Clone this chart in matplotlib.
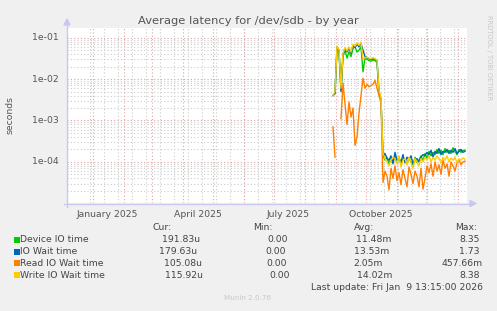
import numpy as np
import matplotlib
matplotlib.use("Agg")
import matplotlib.pyplot as plt
import matplotlib.dates as mdates
from matplotlib.patches import Rectangle
from datetime import datetime, timedelta

# ---------------- data (microseconds), one point every 2 days from 2025-08-29 ----------------
start_day = datetime(2025, 8, 29, 12)
step_days = 2
nan = np.nan
device_us = [4000, 4500, 55000, 45000, 5500, 35000, 50000, 32000, 45000, 35000,
             55000, 60000, 45000, 50000, 60000, 15000, 32000, 30000, 28000, 27000,
             29000, 28000, 25000, 4500, 3000,
             150, 110, 130, 90, 120, 100, 140, 95, 130, 85,
             120, 110, 90, 125, 100, 80, 130, 95, 110, 140,
             105, 160, 120, 180, 140, 170, 150, 200, 160, 190,
             150, 210, 170, 190, 160, 220, 180, 150, 200, 170,
             190, 192]
iowait_us = [4000, 4500, 60000, 50000, 5000, 40000, 55000, 45000, 55000, 42000,
             65000, 58000, 70000, 60000, 72000, 50000, 35000, 33000, 31000, 30000,
             31000, 30000, 28000, 5000, 3200,
             130, 160, 120, 110, 140, 90, 170, 110, 120, 100,
             150, 95, 130, 115, 140, 90, 110, 120, 100, 130,
             150, 140, 170, 150, 190, 130, 180, 160, 210, 150,
             180, 170, 200, 160, 190, 170, 210, 160, 180, 200,
             170, 180]
read_us = [700, 130, nan, nan, 1100, 8000, 2500, 800, 2800, 1200,
           2000, 250, 400, 1500, 4000, 10500, 6000, 7500, 6500, 7000,
           7500, 9300, 6000, 4000, 2600,
           32, 60, 45, 21, 70, 40, 80, 35, 55, 28,
           65, 40, 25, 75, 50, 30, 60, 45, 25, 70,
           22, 40, 80, 55, 90, 45, 100, 60, 85, 50,
           110, 70, 90, 45, 100, 80, 60, 95, 110, 85,
           100, 105]
write_us = [4000, 5000, 62000, 52000, 6000, 42000, 58000, 48000, 60000, 45000,
            70000, 62000, 75000, 65000, 78000, 30000, 33000, 34000, 32000, 31000,
            33000, 31000, 29000, 5500, 3500,
            160, 120, 100, 80, 110, 130, 120, 90, 140, 75,
            110, 120, 85, 130, 95, 70, 120, 100, 80, 120,
            100, 130, 110, 140, 100, 130, 110, 140, 120, 95,
            130, 110, 140, 100, 125, 110, 130, 95, 120, 110,
            125, 116]

series_names = ["Device IO time", "IO Wait time", "Read IO Wait time", "Write IO Wait time"]
series_colors = ["#00CC00", "#0066B3", "#FF8000", "#FFCC00"]
cur_text = ["191.83u", "179.63u", "105.08u", "115.92u"]
min_text = ["0.00", "0.00", "0.00", "0.00"]
avg_text = ["11.48m", "13.53m", "2.05m", "14.02m"]
max_text = ["8.35", "1.73", "457.66m", "8.38"]

month_labels = ["January 2025", "April 2025", "July 2025", "October 2025"]
month_label_dates = [datetime(2025, 1, 16), datetime(2025, 4, 16),
                     datetime(2025, 7, 16), datetime(2025, 10, 16)]
y_ticks = [1e-4, 1e-3, 1e-2, 1e-1]
y_tick_labels = ["1e-04", "1e-03", "1e-02", "1e-01"]

# ---------------- figure ----------------
W, H = 497, 311
fig = plt.figure(figsize=(W / 100, H / 100), dpi=100, facecolor="#F0F0F0")
FONT = "DejaVu Sans"
TXT = "#555555"

def fx(px):
    return px / W

def fy(py):
    return 1 - py / H

ax_l, ax_r, ax_t, ax_b = 67, 467, 27.7, 203.3
ax = fig.add_axes([fx(ax_l), fy(ax_b), (ax_r - ax_l) / W, (ax_b - ax_t) / H])
ax.set_facecolor("white")
for s in ax.spines.values():
    s.set_visible(False)

x0 = datetime(2024, 12, 6, 12)
x1 = x0 + timedelta(days=400)
ax.set_xlim(x0, x1)
ax.set_yscale("log")
ax.set_ylim(1e-5, 0.174)

# grid: minor first
minor_v = []
d = datetime(2024, 12, 29)
while d < x1:
    minor_v.append(d)
    d += timedelta(days=14)
for d in minor_v:
    ax.axvline(d, color="#CCCCCC", lw=0.8, ls=(0, (1, 2)), zorder=0)
for dec in range(-5, 0):
    for m in range(2, 10):
        v = m * 10.0 ** dec
        if v < 0.174:
            ax.axhline(v, color="#CCCCCC", lw=0.8, ls=(0, (1, 2)), zorder=0)
major_v = []
for yy, mm in [(2025, m) for m in range(1, 13)] + [(2026, 1)]:
    major_v.append(datetime(yy, mm, 1))
for d in major_v:
    ax.axvline(d, color="#E8A0A0", lw=0.8, ls=(0, (1, 2)), zorder=0.5)
for v in [1e-5, 1e-4, 1e-3, 1e-2, 1e-1]:
    ax.axhline(v, color="#E8A0A0", lw=0.8, ls=(0, (1, 2)), zorder=0.5)

# data
n = len(device_us)
dates = [start_day + timedelta(days=step_days * i) for i in range(n)]
for vals, c in zip([device_us, iowait_us, read_us, write_us], series_colors):
    ax.plot(dates, np.array(vals, dtype=float) * 1e-6, color=c, lw=1.0, zorder=3)

ax.set_xticks([])
ax.set_yticks([])
ax.minorticks_off()
ax.yaxis.set_minor_locator(matplotlib.ticker.NullLocator())

TFS = 6.7
# tick labels as text
for v, lab in zip(y_ticks, y_tick_labels):
    ax.text(-0.02, v, lab, transform=ax.get_yaxis_transform(), ha="right", va="center",
            fontsize=TFS, color=TXT, family=FONT)
for dte, lab in zip(month_label_dates, month_labels):
    ax.text(dte, -0.037, lab, transform=ax.get_xaxis_transform(), ha="center", va="top",
            fontsize=TFS, color=TXT, family=FONT)

# axis lines with arrows
ac = "#C8C8F0"
fig.add_artist(matplotlib.lines.Line2D([fx(64), fx(471)], [fy(203.5), fy(203.5)], color=ac, lw=1))
fig.add_artist(matplotlib.lines.Line2D([fx(67), fx(67)], [fy(207), fy(24)], color=ac, lw=1))
fig.add_artist(matplotlib.patches.Polygon([[fx(470), fy(200.5)], [fx(476), fy(203.5)], [fx(470), fy(206.5)]],
                                          closed=True, color=ac, transform=fig.transFigure))
fig.add_artist(matplotlib.patches.Polygon([[fx(64), fy(25)], [fx(67), fy(19)], [fx(70), fy(25)]],
                                          closed=True, color=ac, transform=fig.transFigure))

# title and labels
fig.text(fx(248.5), fy(24.5), "Average latency for /dev/sdb - by year", ha="center", va="baseline",
         fontsize=8.25, color=TXT, family=FONT)
fig.text(fx(10), fy(115), "seconds", rotation=90, ha="center", va="center",
         fontsize=TFS, color=TXT, family=FONT)
fig.text(fx(489), fy(15), "RRDTOOL / TOBI OETIKER", rotation=-90, ha="center", va="top",
         fontsize=4.8, color="#C8C8C8", family=FONT)

# legend
LT = "#444444"
fs = 6.65
hdr_y = 227
for lab, cx in zip(["Cur:", "Min:", "Avg:", "Max:"], [162, 263, 364, 466]):
    fig.text(fx(cx), fy(hdr_y), lab, ha="center", va="center", fontsize=fs, color=LT, family=FONT)
row_y = [239.5, 251.5, 263, 275]
cur_c = [181, 178, 183, 184]
min_c = [277.7, 275.7, 276.7, 279.7]
avg_c = [373.8, 372, 368, 374.5]
max_r = [479.5, 479.5, 483, 479.5]
for i in range(4):
    y = row_y[i]
    fig.add_artist(Rectangle((fx(14), fy(y + 3)), 6 / W, 6 / H, transform=fig.transFigure,
                             facecolor=series_colors[i], edgecolor="none"))
    fig.text(fx(20.5), fy(y), series_names[i], ha="left", va="center", fontsize=fs, color=LT, family=FONT)
    fig.text(fx(cur_c[i]), fy(y), cur_text[i], ha="center", va="center", fontsize=fs, color=LT, family=FONT)
    fig.text(fx(min_c[i]), fy(y), min_text[i], ha="center", va="center", fontsize=fs, color=LT, family=FONT)
    fig.text(fx(avg_c[i]), fy(y), avg_text[i], ha="center", va="center", fontsize=fs, color=LT, family=FONT)
    fig.text(fx(max_r[i]), fy(y), max_text[i], ha="right", va="center", fontsize=fs, color=LT, family=FONT)

fig.text(fx(482.7), fy(287.5), "Last update: Fri Jan  9 13:15:00 2026", ha="right", va="center",
         fontsize=fs, color=LT, family=FONT)
fig.text(fx(248), fy(298.5), "Munin 2.0.76", ha="center", va="center", fontsize=5.2,
         color="#C8C8C8", family=FONT)

fig.savefig("out.png", dpi=100, facecolor=fig.get_facecolor())
